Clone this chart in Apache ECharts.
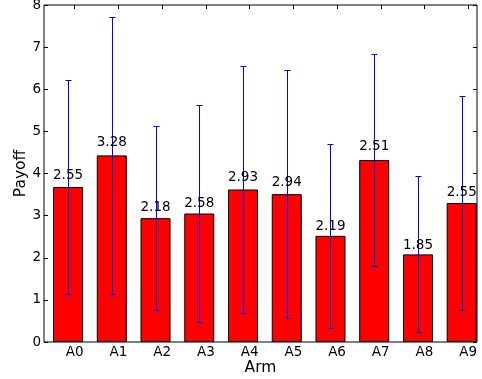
<!DOCTYPE html>
<html>
<head>
<meta charset="utf-8">
<script src="https://cdn.jsdelivr.net/npm/echarts@6/dist/echarts.min.js"></script>
<style>
  html, body { margin: 0; padding: 0; background: #fff; }
  #chart { width: 482px; height: 379px; }
</style>
</head>
<body>
<div id="chart"></div>
<script>
// ---- data ----
const categories = ['A0', 'A1', 'A2', 'A3', 'A4', 'A5', 'A6', 'A7', 'A8', 'A9'];
const means = [3.68, 4.43, 2.94, 3.05, 3.62, 3.51, 2.52, 4.32, 2.08, 3.30];
const stds  = [2.55, 3.28, 2.18, 2.58, 2.93, 2.94, 2.19, 2.51, 1.85, 2.55];
const tickPositions = [0, 1, 2, 3, 4, 5, 6, 7, 8, 9];

// ---- build ----
const FONT = 'DejaVu Sans';
const barOffset = -0.15; // bars drawn left of tick (edge-aligned bars)
const barData = means.map((m, i) => [tickPositions[i] + barOffset, m]);
const errData = means.map((m, i) => [tickPositions[i] + barOffset, m, stds[i]]);

const chart = echarts.init(document.getElementById('chart'), null, { renderer: 'canvas' });

const xCommon = {
  type: 'value', min: -0.7, max: 9.2,
  splitLine: { show: false },
  axisLine: { show: false, onZero: false }
};
const yCommon = {
  type: 'value', min: 0, max: 8, interval: 1,
  splitLine: { show: false },
  axisLine: { show: false, onZero: false }
};

chart.setOption({
  animation: false,
  backgroundColor: '#fff',
  grid: {
    left: 44, right: 5, top: 5, bottom: 37,
    containLabel: false, outerBoundsMode: 'none',
    show: true, borderColor: '#000', borderWidth: 1, backgroundColor: 'transparent'
  },
  xAxis: [
    Object.assign({}, xCommon, {
      position: 'bottom',
      name: 'Arm', nameLocation: 'middle', nameGap: 18, nameMoveOverlap: false,
      nameTextStyle: { fontFamily: FONT, fontSize: 15.5, color: '#000' },
      axisTick: { show: true, inside: true, length: 4, customValues: tickPositions, lineStyle: { color: '#000' } },
      axisLabel: {
        show: true, customValues: tickPositions, margin: 3,
        fontFamily: FONT, fontSize: 13.5, color: '#000',
        formatter: (v) => categories[Math.round(v)]
      }
    }),
    Object.assign({}, xCommon, {
      position: 'top',
      axisTick: { show: true, inside: true, length: 4, customValues: tickPositions, lineStyle: { color: '#000' } },
      axisLabel: { show: false }
    })
  ],
  yAxis: [
    Object.assign({}, yCommon, {
      position: 'left',
      name: 'Payoff', nameLocation: 'middle', nameGap: 15, nameMoveOverlap: false,
      nameTextStyle: { fontFamily: FONT, fontSize: 15.5, color: '#000' },
      axisTick: { show: true, inside: true, length: 4, lineStyle: { color: '#000' } },
      axisLabel: { show: true, margin: 3, fontFamily: FONT, fontSize: 13.5, color: '#000' }
    }),
    Object.assign({}, yCommon, {
      position: 'right',
      axisTick: { show: true, inside: true, length: 4, lineStyle: { color: '#000' } },
      axisLabel: { show: false }
    })
  ],
  series: [
    {
      type: 'bar',
      xAxisIndex: 0, yAxisIndex: 0,
      data: barData,
      barWidth: 30,
      itemStyle: { color: '#ff0000', borderColor: '#000', borderWidth: 1 },
      z: 2
    },
    {
      type: 'custom',
      xAxisIndex: 0, yAxisIndex: 0,
      data: errData,
      encode: { x: 0, y: 1 },
      z: 3,
      renderItem: function (params, api) {
        const x = api.value(0), m = api.value(1), s = api.value(2);
        const top = api.coord([x, m + s]);
        const bot = api.coord([x, m - s]);
        const lab = api.coord([x, m * 1.05]);
        const px = Math.round(top[0]) + 0.5;
        const ty = Math.round(top[1]) + 0.5;
        const by = Math.round(bot[1]) + 0.5;
        const cap = 3;
        const ls = { stroke: '#0000ff', lineWidth: 1 };
        return {
          type: 'group',
          children: [
            { type: 'line', shape: { x1: px, y1: ty, x2: px, y2: by }, style: ls },
            { type: 'line', shape: { x1: px - cap, y1: ty, x2: px + cap, y2: ty }, style: ls },
            { type: 'line', shape: { x1: px - cap, y1: by, x2: px + cap, y2: by }, style: ls },
            {
              type: 'text',
              style: {
                text: stds[params.dataIndex].toFixed(2),
                x: lab[0], y: lab[1] + 3,
                align: 'center', verticalAlign: 'bottom',
                font: '13.5px "DejaVu Sans"', fill: '#000'
              }
            }
          ]
        };
      }
    }
  ]
});
</script>
</body>
</html>
